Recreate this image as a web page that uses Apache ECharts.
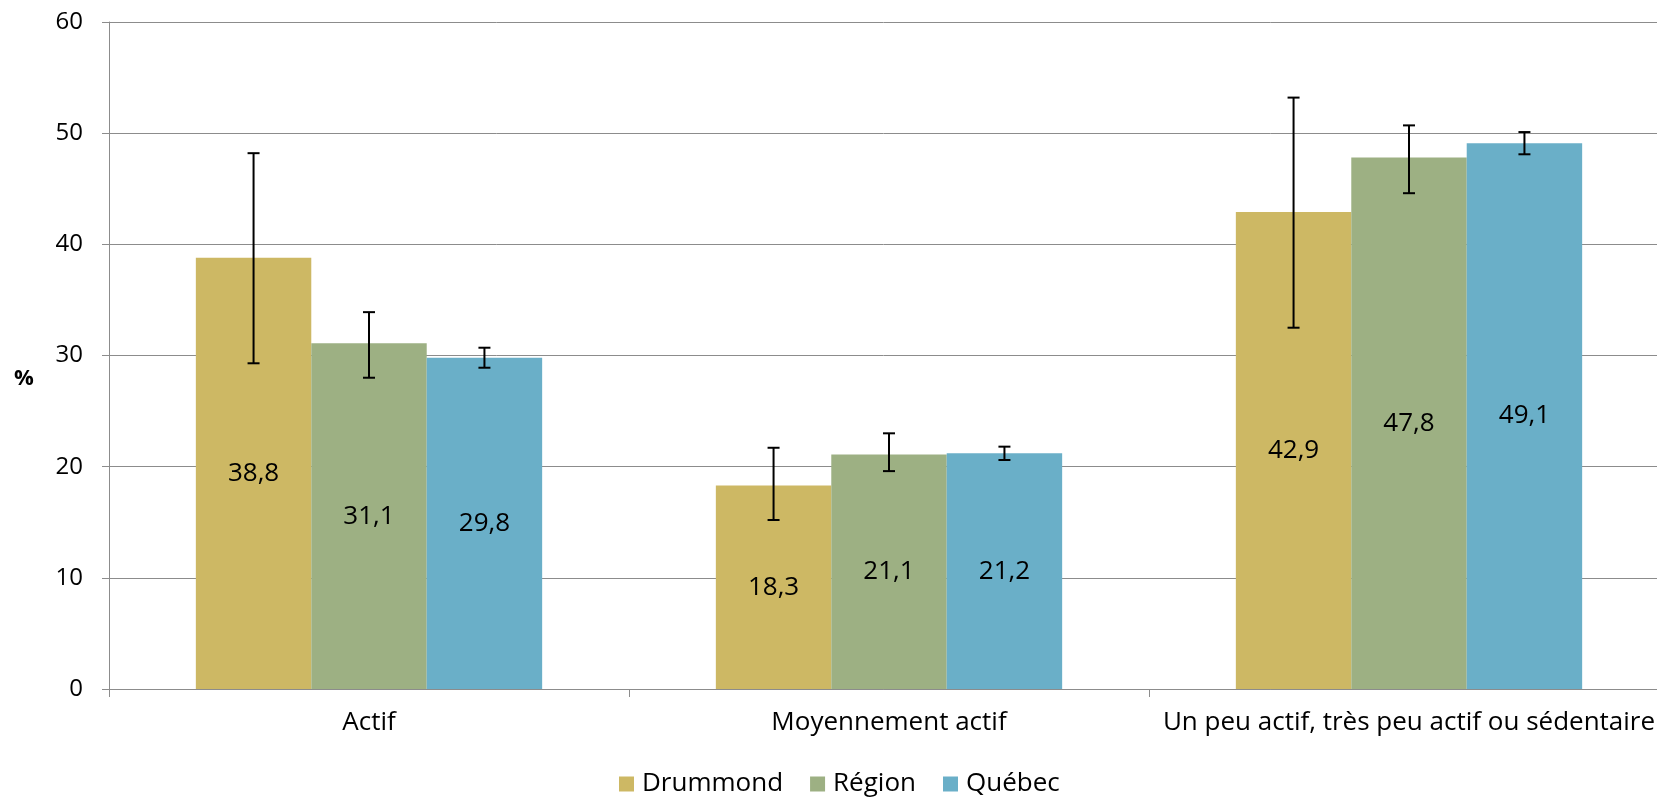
<!DOCTYPE html>
<html><head><meta charset="utf-8">
<script src="https://cdn.jsdelivr.net/npm/echarts@6/dist/echarts.min.js"></script>
<style>html,body{margin:0;padding:0;background:#fff}#c{width:1657px;height:799px}</style>
</head><body><div id="c"></div>
<script>
var categories = ['Actif', 'Moyennement actif', 'Un peu actif, très peu actif ou sédentaire'];
var seriesNames = ['Drummond', 'Région', 'Québec'];
var drummond = [38.8, 18.3, 42.9];
var region = [31.1, 21.1, 47.8];
var quebec = [29.8, 21.2, 49.1];
var drummondLow = [29.3, 15.2, 32.5];
var drummondHigh = [48.2, 21.7, 53.2];
var regionLow = [28.0, 19.6, 44.6];
var regionHigh = [33.9, 23.0, 50.7];
var quebecLow = [28.9, 20.6, 48.1];
var quebecHigh = [30.7, 21.8, 50.1];
var yTicks = [0, 10, 20, 30, 40, 50, 60];

var colors = ['#CDB864', '#9DB083', '#6AAFC8'];
var values = [drummond, region, quebec];
var lows = [drummondLow, regionLow, quebecLow];
var highs = [drummondHigh, regionHigh, quebecHigh];
var BAR_FRAC = 0.222;
var FONT = 'Open Sans';

var series = [];
for (var s = 0; s < 3; s++) {
  series.push({
    name: seriesNames[s], type: 'bar', data: values[s],
    barWidth: (BAR_FRAC * 100) + '%', barGap: '0%',
    itemStyle: { color: colors[s] },
    label: { show: true, position: 'inside', color: '#000', fontSize: 26, fontFamily: FONT,
      formatter: function (p) { return String(p.value.toFixed(1)).replace('.', ','); } },
    z: 2
  });
}
for (var s2 = 0; s2 < 3; s2++) {
  (function (idx) {
    var d = [];
    for (var i = 0; i < categories.length; i++) d.push([i, lows[idx][i], highs[idx][i]]);
    series.push({
      type: 'custom', data: d, z: 5, silent: true,
      encode: { x: 0, y: [1, 2] },
      renderItem: function (params, api) {
        var ci = api.value(0);
        var lo = api.coord([ci, api.value(1)]);
        var hi = api.coord([ci, api.value(2)]);
        var bw = api.size([1, 0])[0] * BAR_FRAC;
        var x = lo[0] + (idx - 1) * bw;
        var h = 6;
        var st = { stroke: '#000', lineWidth: 2 };
        return { type: 'group', children: [
          { type: 'line', shape: { x1: x, y1: lo[1], x2: x, y2: hi[1] }, style: st },
          { type: 'line', shape: { x1: x - h, y1: lo[1], x2: x + h, y2: lo[1] }, style: st },
          { type: 'line', shape: { x1: x - h, y1: hi[1], x2: x + h, y2: hi[1] }, style: st }
        ]};
      }
    });
  })(s2);
}

var chart = echarts.init(document.getElementById('c'));
chart.setOption({
  animation: false,
  textStyle: { fontFamily: FONT },
  grid: { left: 109, width: 1560, top: 22, bottom: 110, containLabel: false, outerBoundsMode: 'none' },
  graphic: [{ type: 'text', left: 14, top: 368,
    style: { text: '%', fontFamily: FONT, fontWeight: 'bold', fontSize: 22, fill: '#000' } }],
  legend: {
    data: seriesNames, bottom: -3, left: 614, itemWidth: 15, itemHeight: 15, itemGap: 27,
    icon: 'rect', textStyle: { fontSize: 26, color: '#000', fontFamily: FONT, padding: [0, 0, 0, 3] }
  },
  xAxis: {
    type: 'category', data: categories,
    axisLine: { lineStyle: { color: '#8c8c8c', width: 1 } },
    axisTick: { show: true, length: 8, lineStyle: { color: '#8c8c8c' } },
    axisLabel: { color: '#000', fontSize: 26, margin: 21, fontFamily: FONT, interval: 0 }
  },
  yAxis: {
    type: 'value', min: 0, max: 60, interval: 10,
    axisLine: { show: true, lineStyle: { color: '#8c8c8c', width: 1 } },
    axisTick: { show: true, length: 7, lineStyle: { color: '#8c8c8c' } },
    splitLine: { lineStyle: { color: '#8c8c8c', width: 1 } },
    axisLabel: { color: '#000', fontSize: 24, margin: 26, fontFamily: FONT,
      formatter: function (v) { return yTicks.indexOf(v) >= 0 ? String(v) : ''; } }
  },
  series: series
});
</script></body></html>
